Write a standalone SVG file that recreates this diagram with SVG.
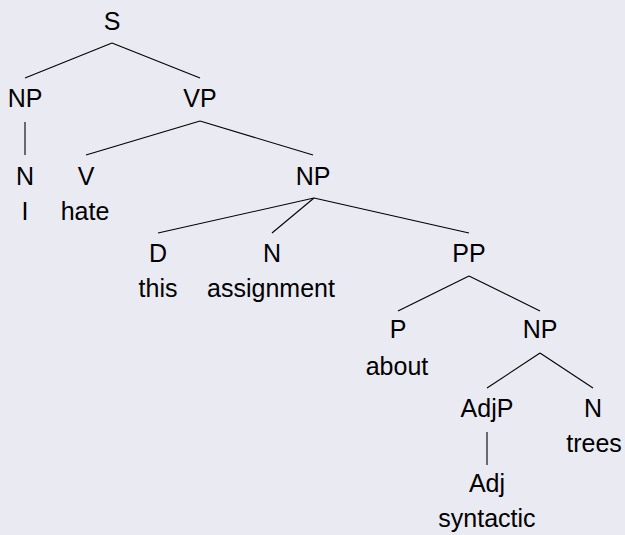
<svg xmlns="http://www.w3.org/2000/svg" width="625" height="535" viewBox="0 0 625 535">
<style>
text{font-family:"Liberation Sans","DejaVu Sans",sans-serif;font-size:25px;fill:#000;text-anchor:middle}
.e line{stroke:#000;stroke-width:1.1}
</style>
<rect width="625" height="535" fill="#EAEAF3"/>
<g class="e" id="connectors">
<line x1="112" y1="43" x2="25" y2="78"/>
<line x1="112" y1="43" x2="200" y2="78"/>
<line x1="25" y1="122" x2="25" y2="155"/>
<line x1="200" y1="121" x2="86" y2="155"/>
<line x1="200" y1="121" x2="313" y2="155"/>
<line x1="314" y1="198" x2="158" y2="233"/>
<line x1="314" y1="198" x2="272" y2="233"/>
<line x1="314" y1="198" x2="469" y2="233"/>
<line x1="469" y1="276" x2="398" y2="311"/>
<line x1="469" y1="276" x2="540" y2="311"/>
<line x1="540" y1="353" x2="487" y2="388"/>
<line x1="540" y1="353" x2="593" y2="388"/>
<line x1="487" y1="432" x2="487" y2="465"/>
</g>
<g id="S"><text x="112" y="30">S</text></g>
<g id="NP1"><text x="25" y="107">NP</text></g>
<g id="VP"><text x="200" y="107">VP</text></g>
<g id="N1"><text x="25" y="185">N</text><text x="25" y="220">I</text></g>
<g id="V"><text x="86" y="185">V</text><text x="85" y="220">hate</text></g>
<g id="NP2"><text x="313" y="185">NP</text></g>
<g id="D"><text x="158" y="262">D</text><text x="158" y="297">this</text></g>
<g id="N2"><text x="272" y="262">N</text><text x="271" y="297">assignment</text></g>
<g id="PP"><text x="469" y="262">PP</text></g>
<g id="P"><text x="398" y="338">P</text><text x="397" y="375">about</text></g>
<g id="NP3"><text x="540" y="338">NP</text></g>
<g id="AdjP"><text x="487" y="417">AdjP</text></g>
<g id="N3"><text x="593" y="417">N</text><text x="594" y="452">trees</text></g>
<g id="Adj"><text x="487" y="492">Adj</text><text x="487" y="527">syntactic</text></g>
</svg>
